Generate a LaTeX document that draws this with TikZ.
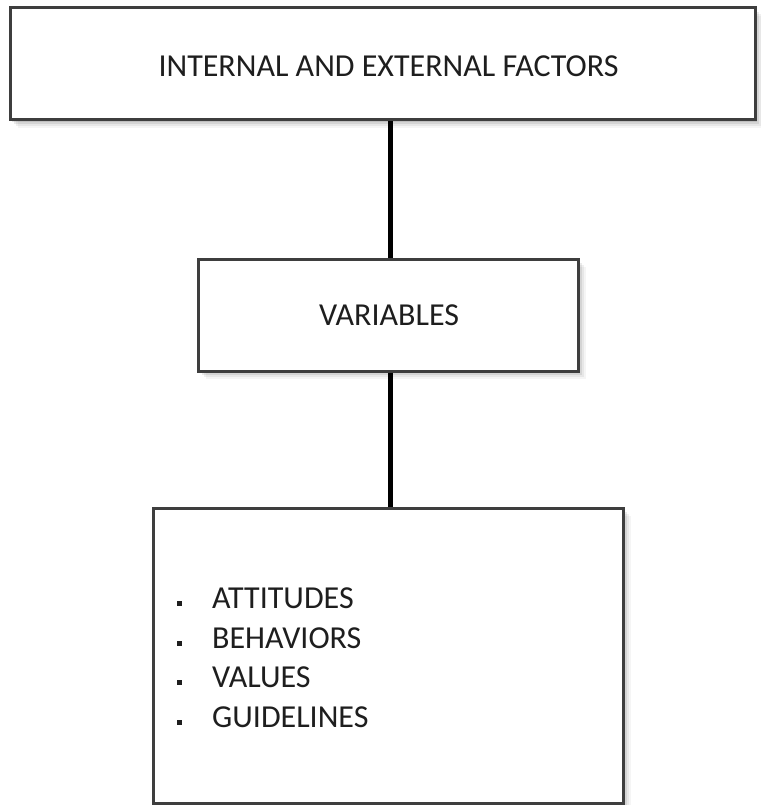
\documentclass[tikz,border=0pt]{standalone}
\usepackage{fontspec}
\setmainfont{Carlito}
\usetikzlibrary{shadows}
\definecolor{boxline}{RGB}{62,62,62}
\definecolor{txt}{RGB}{30,30,30}
\tikzset{
  box/.style={draw=boxline, line width=3pt, fill=white, inner sep=0pt, rectangle,
    general shadow={fill=black, opacity=0.10, shadow xshift=2pt, shadow yshift=-2pt},
    general shadow={fill=black, opacity=0.08, shadow xshift=4pt, shadow yshift=-4pt},
    general shadow={fill=black, opacity=0.06, shadow xshift=6pt, shadow yshift=-6pt},
    general shadow={fill=black, opacity=0.04, shadow xshift=8pt, shadow yshift=-8pt}},
  conn/.style={line width=5pt, black},
  lbl/.style={font=\fontsize{32}{38}\selectfont, text=txt, inner sep=0pt},
  bulletmark/.style={fill=txt, minimum size=5pt, inner sep=0pt, rectangle}
}
\begin{document}
\begin{tikzpicture}[x=1pt, y=1pt]
\useasboundingbox (0,0) rectangle (760,-805);
\node[box, minimum width=745pt, minimum height=112pt] (top) at (382.5,-64) {};
\node[box, minimum width=380pt, minimum height=112pt] (mid) at (388,-315) {};
\node[box, minimum width=470pt, minimum height=295pt] (bot) at (388,-655.5) {};
\draw[conn] ([xshift=2pt]mid.north |- top.south) -- ([xshift=2pt]mid.north);
\draw[conn] ([xshift=2pt]mid.south) -- ([xshift=2pt]mid.south |- bot.north);
% labels
\node[lbl, anchor=base] (toplbl) at (388.5,-77) {INTERNAL AND EXTERNAL FACTORS};
\node[lbl, anchor=base] (midlbl) at (389,-325) {VARIABLES};
\node[lbl, anchor=base west] (i1) at (212,-608) {ATTITUDES};
\node[lbl, anchor=base west] (i2) at (212,-648) {BEHAVIORS};
\node[lbl, anchor=base west] (i3) at (212,-687.5) {VALUES};
\node[lbl, anchor=base west] (i4) at (212,-727) {GUIDELINES};
\node[bulletmark] (b1) at (179,-603) {};
\node[bulletmark] (b2) at (179,-643) {};
\node[bulletmark] (b3) at (179,-682.5) {};
\node[bulletmark] (b4) at (179,-722) {};
\end{tikzpicture}
\end{document}
